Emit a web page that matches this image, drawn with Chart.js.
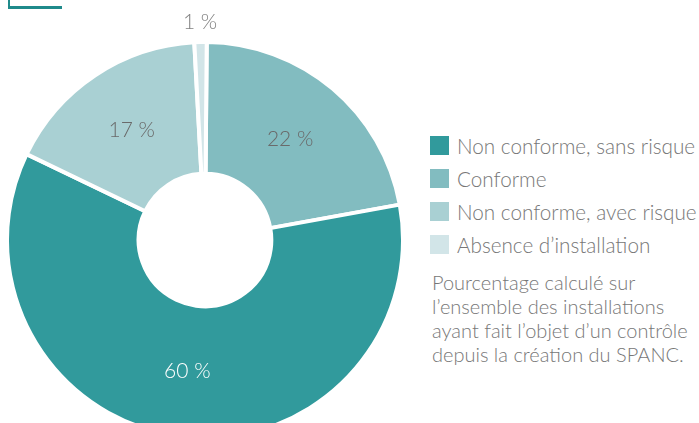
<!DOCTYPE html>
<html lang="fr">
<head>
    <meta charset="UTF-8">
    <title>Conformité des installations</title>
    <script src="https://cdn.jsdelivr.net/npm/chart.js"></script>
    <style>
        body { margin: 0; width: 699px; height: 423px; overflow: hidden; background: #fff; font-family: "Lato Light", Lato, "Open Sans", sans-serif; font-weight: 300; color: #777; position: relative; }
        .corner { position: absolute; left: 8px; top: -2px; width: 52px; height: 8px; border-left: 2px solid #1f8a8b; border-bottom: 3px solid #1f8a8b; }
        .chart-box { position: absolute; left: 5px; top: 0; width: 400px; height: 440px; }
        .legend { position: absolute; left: 430px; top: 129px; margin: 0; padding: 0; list-style: none; }
        .legend li { display: flex; align-items: center; height: 33px; font-size: 20.7px; white-space: nowrap; }
        .legend .sw { width: 19px; height: 19px; margin-right: 8px; flex: none; }
        .note { position: absolute; left: 432px; top: 270px; font-size: 20px; line-height: 24px; }
    </style>
</head>
<body>
    <div class="corner"></div>
    <div class="chart-box"><canvas id="pie"></canvas></div>
    <ul class="legend" id="legend"></ul>
    <div class="note">Pourcentage calculé sur<br>l’ensemble des installations<br>ayant fait l’objet d’un contrôle<br>depuis la création du SPANC.</div>

    <script>
        // donnees, dans l'ordre du trace (sens horaire depuis le haut)
        const categories = ['Conforme', 'Non conforme, sans risque', 'Non conforme, avec risque', 'Absence d’installation'];
        const values = [22, 60, 17, 1];
        const colors = ['#82bcc0', '#319a9c', '#a9d0d3', '#d2e5e8'];
        const labelColors = ['#6a6a6a', '#ffffff', '#6a6a6a', '#808080'];
        // ordre de la legende
        const legendOrder = [1, 0, 2, 3];

        const legend = document.getElementById('legend');
        legendOrder.forEach(i => {
            const li = document.createElement('li');
            li.innerHTML = '<span class="sw" style="background:' + colors[i] + '"></span>' + categories[i];
            legend.appendChild(li);
        });

        // etiquettes des pourcentages
        const sliceLabels = {
            id: 'sliceLabels',
            afterDatasetsDraw(chart) {
                const ctx = chart.ctx;
                const meta = chart.getDatasetMeta(0);
                ctx.save();
                ctx.font = '300 21px "Lato Light", Lato, "Open Sans", sans-serif';
                ctx.textAlign = 'center';
                ctx.textBaseline = 'middle';
                meta.data.forEach((arc, i) => {
                    const p = arc.getProps(['x', 'y', 'startAngle', 'endAngle', 'innerRadius', 'outerRadius'], true);
                    const mid = (p.startAngle + p.endAngle) / 2;
                    let r = (p.innerRadius + p.outerRadius) / 2;
                    if (values[i] < 5) r = p.outerRadius + 20;
                    ctx.fillStyle = labelColors[i];
                    ctx.fillText(values[i] + ' %', p.x + Math.cos(mid) * r, p.y + Math.sin(mid) * r);
                });
                ctx.restore();
            }
        };

        new Chart(document.getElementById('pie'), {
            type: 'doughnut',
            data: {
                labels: categories,
                datasets: [{
                    data: values,
                    backgroundColor: colors,
                    borderColor: '#ffffff',
                    borderWidth: 4
                }]
            },
            options: {
                responsive: true,
                maintainAspectRatio: false,
                animation: false,
                cutout: '33.5%',
                rotation: 0.5,
                events: [],
                layout: { padding: { top: 40 } },
                plugins: {
                    legend: { display: false },
                    tooltip: { enabled: false }
                }
            },
            plugins: [sliceLabels]
        });
    </script>
</body>
</html>
